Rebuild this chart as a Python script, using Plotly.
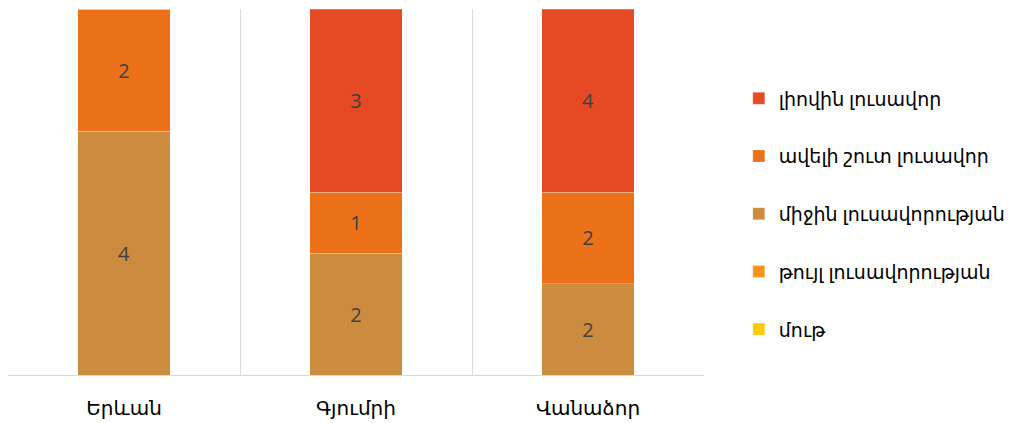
import plotly.graph_objects as go

cities = ["Երևան", "Գյումրի", "Վանաձոր"]

series_names = [
    "մութ",
    "թույլ լուսավորության",
    "միջին լուսավորության",
    "ավելի շուտ լուսավոր",
    "լիովին լուսավոր",
]
dark = [0, 0, 0]
weak = [0, 0, 0]
medium = [4, 2, 2]
rather_light = [2, 1, 2]
fully_light = [0, 3, 4]

series_values = [dark, weak, medium, rather_light, fully_light]
colors = ["#FFC90A", "#F7941D", "#CD8B40", "#EC7118", "#E54A24"]

FONT = "Segoe UI, Open Sans, DejaVu Sans, sans-serif"

fig = go.Figure()
n = len(series_names)
for i, (name, vals, col) in enumerate(zip(series_names, series_values, colors)):
    fig.add_trace(go.Bar(
        x=cities,
        y=vals,
        name=name,
        legendgroup=name,
        legendrank=n - i,
        marker=dict(color=col, line=dict(color="rgba(255,255,255,0.5)", width=0.5)),
        text=[str(v) if v else "" for v in vals],
        texttemplate="%{text}",
        textposition="inside",
        insidetextanchor="middle",
        textangle=0,
        textfont=dict(family=FONT, size=20, color="#404040"),
        hoverinfo="skip",
    ))

fig.update_layout(
    barmode="stack",
    barnorm="percent",
    bargap=0.6,
    width=1016,
    height=415,
    margin=dict(l=0, r=320, t=1, b=48, autoexpand=False),
    paper_bgcolor="white",
    plot_bgcolor="white",
    font=dict(family=FONT, size=20, color="#000000"),
    showlegend=True,
    legend=dict(
        x=1.050, xanchor="left",
        y=0.44, yanchor="middle",
        traceorder="grouped",
        tracegroupgap=30,
        itemwidth=30,
        font=dict(family=FONT, size=19, color="#000000"),
        bgcolor="rgba(0,0,0,0)",
    ),
)
fig.update_xaxes(
    type="category",
    tickson="boundaries",
    showgrid=True,
    gridcolor="#D9D9D9",
    gridwidth=1,
    showline=True,
    linecolor="#D9D9D9",
    linewidth=1,
    ticks="",
    ticklabelstandoff=15,
    tickfont=dict(family=FONT, size=20, color="#000000"),
    zeroline=False,
)
fig.update_yaxes(
    range=[0, 100],
    visible=False,
    showgrid=False,
    zeroline=False,
)

fig.write_html("out.html")
